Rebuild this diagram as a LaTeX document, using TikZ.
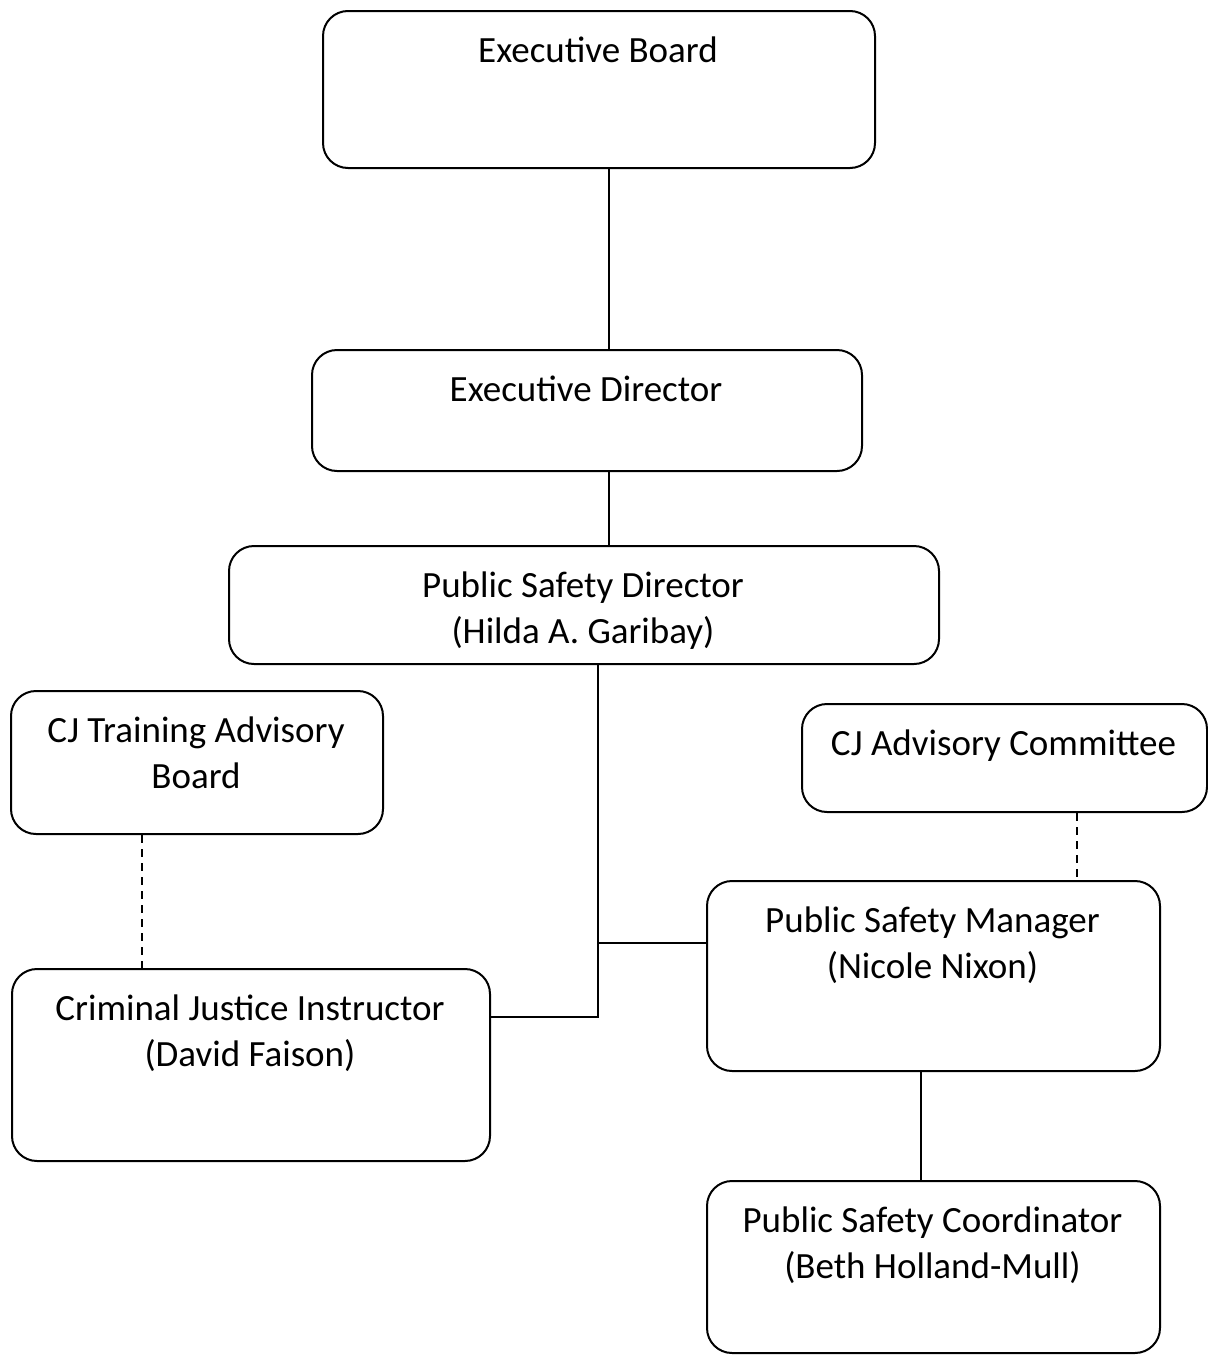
\documentclass[tikz,border=0pt]{standalone}
\usepackage{fontspec}
\setmainfont{Carlito}
\begin{document}
\begin{tikzpicture}[x=0.5pt,y=-0.5pt,
  box/.style={draw, line width=1pt, rounded corners=12.5pt, inner sep=0pt, anchor=north west},
  boxtext/.style={anchor=base, inner sep=0pt, font=\fontsize{18.5}{23}\selectfont},
  link/.style={line width=1pt},
  dashlink/.style={line width=1pt, dash pattern=on 4pt off 3pt}]
\useasboundingbox (0,0) rectangle (1207,1355);

% \orgbox{name}{left}{top}{right}{bottom}{text}: rounded box with its text near the top
\newcommand\orgbox[6]{%
  \node[box, minimum width={(#4-#2)*0.5pt}, minimum height={(#5-#3)*0.5pt}] (#1) at (#2,#3) {};
  \node[boxtext] (#1-t) at ({(#2+#4)/2},#3+52) {\begin{tabular}[t]{@{}c@{}}#6\end{tabular}};}

\orgbox{eb}{322}{10}{874}{167}{Executive Board}
\orgbox{ed}{311}{349}{861}{470}{Executive Director}
\orgbox{psd}{228}{545}{938}{663}{Public Safety Director\\(Hilda A. Garibay)}
\orgbox{cjtab}{10}{690}{382}{833}{CJ Training Advisory\\Board}
\orgbox{cjac}{801}{703}{1206}{811}{CJ Advisory Committee}
\orgbox{psm}{706}{880}{1159}{1070}{Public Safety Manager\\(Nicole Nixon)}
\orgbox{cji}{11}{968}{489}{1160}{Criminal Justice Instructor\\(David Faison)}
\orgbox{psc}{706}{1180}{1159}{1352}{Public Safety Coordinator\\(Beth Holland-Mull)}

% connector positions
\coordinate (top) at (609,0);
\coordinate (j1) at (598,1017);
\coordinate (j2) at (598,943);
\coordinate (mgr) at (921,0);
\coordinate (trn) at (142,0);
\coordinate (adv) at (1077,0);

% solid reporting lines
\draw[link] (eb.south -| top) -- (ed.north -| top);
\draw[link] (ed.south -| top) -- (psd.north -| top);
\draw[link] (psd.south -| j1) -- (j1) -- (j1 -| cji.east);
\draw[link] (j2) -- (j2 -| psm.west);
\draw[link] (psm.south -| mgr) -- (psc.north -| mgr);

% advisory (dashed) lines
\draw[dashlink] (cjtab.south -| trn) -- (cji.north -| trn);
\draw[dashlink] (cjac.south -| adv) -- (psm.north -| adv);
\end{tikzpicture}
\end{document}
